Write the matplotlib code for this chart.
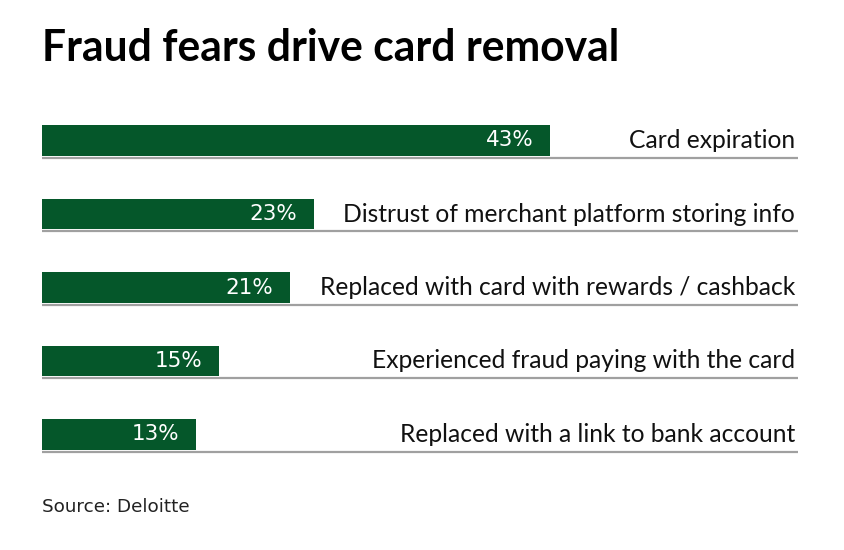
import matplotlib
matplotlib.use("Agg")
import matplotlib.pyplot as plt

# data
categories = ["Card expiration",
              "Distrust of merchant platform storing info",
              "Replaced with card with rewards / cashback",
              "Experienced fraud paying with the card",
              "Replaced with a link to bank account"]
values = [43, 23, 21, 15, 13]
value_labels = ["43%", "23%", "21%", "15%", "13%"]

green = "#05572a"

fig = plt.figure(figsize=(8.44, 5.5), dpi=100)
ax = fig.add_axes([42/844, 1 - 471.25/550, 756/844, 367.5/550])

ypos = list(range(len(values)))
ax.barh(ypos, values, height=0.42, color=green, left=0)

for y, v, lab, cat in zip(ypos, values, value_labels, categories):
    ax.axhline(y + 0.235, color="#a0a0a0", lw=1.6, zorder=1)
    ax.annotate(lab, (v, y), xytext=(-12, 0), textcoords="offset points",
                ha="right", va="center", color="white", fontsize=15.5,
                family="DejaVu Sans")
    ax.text(63.75, y, cat, ha="right", va="center", fontsize=17.7,
            family="Lato", color="#111111")

ax.set_xlim(0, 64)
ax.set_ylim(4.5, -0.5)
ax.axis("off")

fig.text(42/844, 1 - 61/550, "Fraud fears drive card removal", fontsize=30.7,
         fontweight="bold", family="Lato", ha="left", va="baseline")
fig.text(42/844, 1 - 512/550, "Source: Deloitte", fontsize=13.2,
         family="DejaVu Sans", ha="left", va="baseline", color="#222222")

fig.savefig("out.png", dpi=100)
